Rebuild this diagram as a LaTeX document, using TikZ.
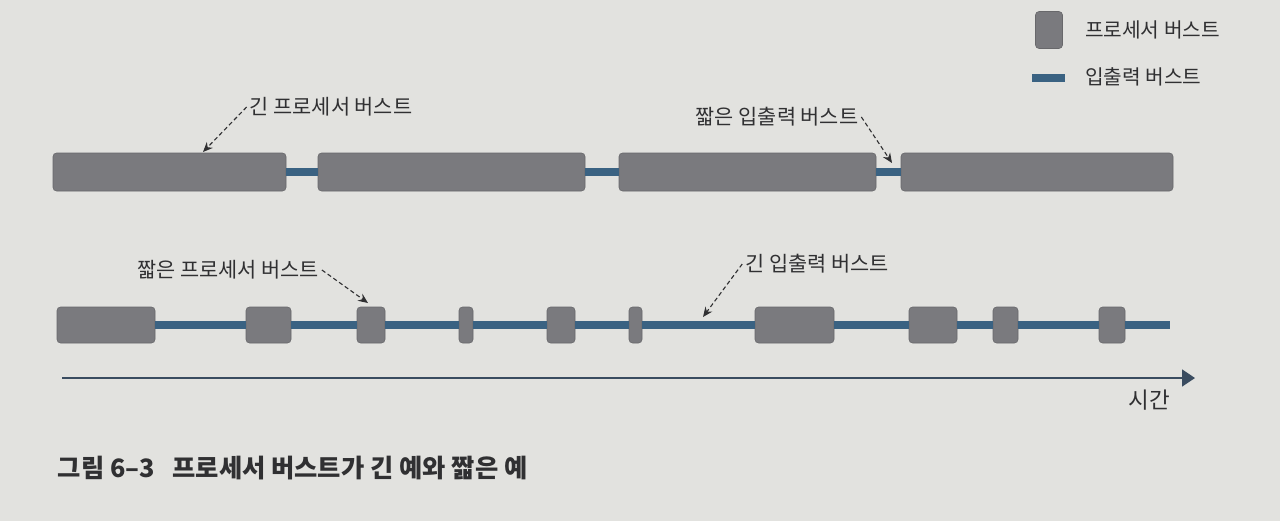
\documentclass[tikz,border=0pt]{standalone}
\usepackage{fontspec}
\setmainfont{Noto Sans CJK KR}
\usetikzlibrary{arrows.meta}
\definecolor{paper}{RGB}{226,226,223}
\definecolor{burst}{RGB}{122,122,126}
\definecolor{iocol}{RGB}{58,98,130}
\definecolor{axcol}{RGB}{58,76,96}
\definecolor{ink}{RGB}{48,48,50}
\newcommand{\px}{0.025cm}
\newcommand{\lblfont}{\fontsize{14.8}{17}\selectfont}

\begin{document}
\begin{tikzpicture}[x=\px,y=-\px]
\tikzstyle{every node}=[text=ink]
\tikzstyle{pburst}=[fill=burst, draw=burst!85!black, rounded corners=2.5pt, inner sep=0pt, minimum height=38*\px]
\tikzstyle{ioburst}=[draw=iocol, line width=5pt]
\tikzstyle{lbl}=[font=\lblfont, inner sep=2pt]
\tikzstyle{note}=[draw=ink, line width=0.8pt, dash pattern=on 3pt off 2pt, -{Stealth[length=7pt,width=6pt]}]
\fill[paper] (0,0) rectangle (1280,521);
\useasboundingbox (0,0) rectangle (1280,521);

%%%------------------------------------------------------------------------------------------------------------
% legend
\node[pburst, minimum width=27*\px, minimum height=37*\px] (lgp) at (1049,30) {};
\node[lbl, anchor=west, font=\fontsize{14.4}{17}\selectfont] (lgpt) at (1082,30) {프로세서 버스트};
\coordinate (lg0) at (1032,78);
\coordinate (lg1) at (1065,78);
\draw[ioburst] (lg0)--(lg1);
\node[lbl, anchor=west, font=\fontsize{14.4}{17}\selectfont] (lgit) at (1082,77) {입출력 버스트};

%%%------------------------------------------------------------------------------------------------------------
% long cpu bursts
\foreach \a/\b/\nm in {53/286/p1, 318/585/p2, 619/876/p3, 901/1173/p4}{\node[pburst, minimum width={(\b-\a)*\px}] (\nm) at ({(\a+\b)/2},172) {};}
\foreach \s/\t in {p1/p2, p2/p3, p3/p4}{\draw[ioburst] (\s.east)--(\t.west);}
\node[lbl] (l1) at (331,107) {긴 프로세서 버스트};
\coordinate (a1) at (203,152);
\draw[note] (l1.west)--(a1);
\node[lbl] (l2) at (777,117) {짧은 입출력 버스트};
\coordinate (a2) at (892,163);
\draw[note] (l2.east)--(a2);

%%%------------------------------------------------------------------------------------------------------------
% short cpu bursts
\foreach \a/\b/\nm in {57/155/q1, 246/291/q2, 357/385/q3, 459/473/q4, 547/575/q5, 629/642/q6, 755/834/q7, 909/957/q8, 993/1018/q9, 1099/1125/q10}{\node[pburst, minimum width={(\b-\a)*\px}, minimum height=36*\px] (\nm) at ({(\a+\b)/2},325) {};}
\coordinate (qend) at (1170,325);
\foreach \s/\t in {q1/q2, q2/q3, q3/q4, q4/q5, q5/q6, q6/q7, q7/q8, q8/q9, q9/q10}{\draw[ioburst] (\s.east)--(\t.west);}
\draw[ioburst] (q10.east)--(qend);
\node[lbl] (l3) at (228,270) {짧은 프로세서 버스트};
\coordinate (a3) at (368,303);
\draw[note] (l3.east)--(a3);
\node[lbl] (l4) at (817,264) {긴 입출력 버스트};
\coordinate (a4) at (703,317);
\draw[note] (l4.west)--(a4);

%%%------------------------------------------------------------------------------------------------------------
% time axis
\coordinate (t0) at (62,378);
\coordinate (t1) at (1195,378);
\draw[draw=axcol, line width=1.3pt, -{Triangle[length=13*\px,width=17*\px]}] (t0)--(t1);
\node[font=\fontsize{16}{19}\selectfont] (time) at (1149,400) {시간};

\node[anchor=west, font=\fontsize{18}{21}\selectfont\bfseries] (cap) at (53,468) {그림 6–3\ \ \ 프로세서 버스트가 긴 예와 짧은 예};
\end{tikzpicture}
\end{document}
